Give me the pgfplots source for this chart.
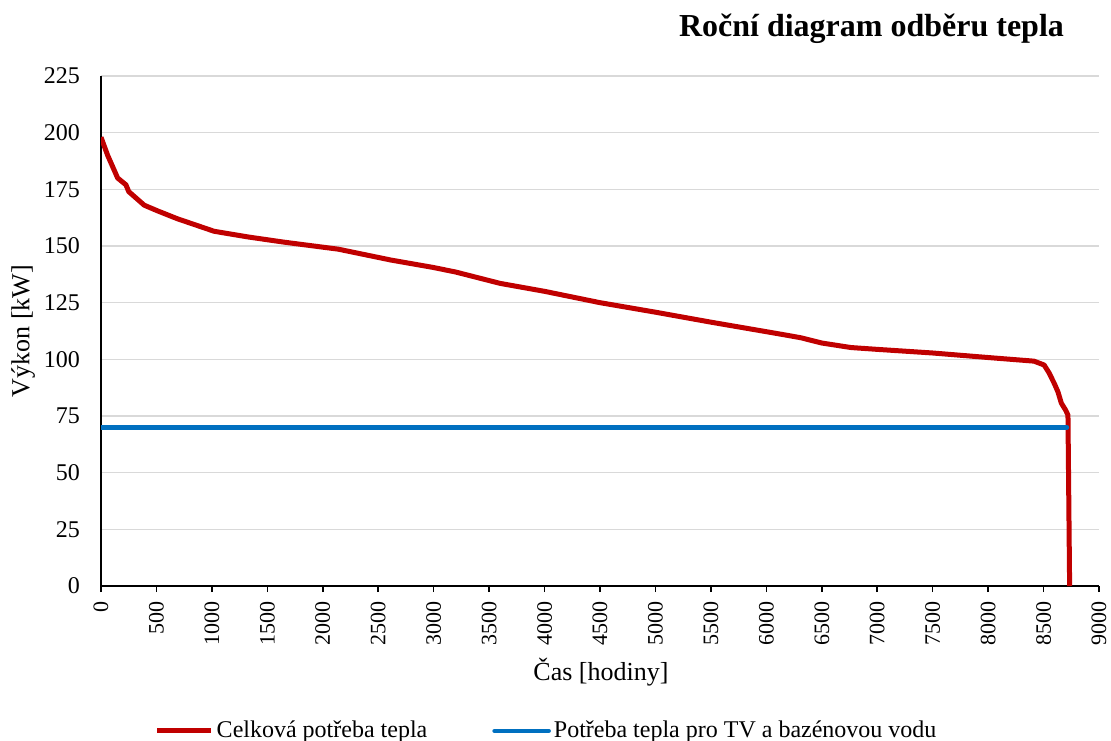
\documentclass[border=0pt]{standalone}
\usepackage{fontspec}
\setmainfont{Liberation Serif}
\usepackage{pgfplots}
\pgfplotsset{compat=1.18}

\definecolor{tred}{HTML}{C00000}
\definecolor{tblue}{HTML}{0070C0}
\definecolor{tgrid}{HTML}{D9D9D9}

\begin{document}
\begin{tikzpicture}
\begin{axis}[
  at={(0,0)}, anchor=south west,
  width=499pt, height=255pt, scale only axis,
  xmin=0, xmax=9000, ymin=0, ymax=225,
  xtick distance=500, ytick distance=25,
  axis x line=bottom, axis y line=left,
  axis line style={-, black, line width=0.8pt},
  ymajorgrids=true,
  major grid style={tgrid, line width=0.7pt},
  x tick style={black, line width=0.8pt},
  y tick style={draw=none},
  major tick length=3pt,
  tick align=outside,
  /pgf/number format/assume math mode=true,
  /pgf/number format/1000 sep={},
  scaled x ticks=false,
  xticklabel style={rotate=90, anchor=east, font=\fontsize{11}{13}\selectfont, xshift=-1pt},
  yticklabel style={font=\fontsize{12}{14}\selectfont, xshift=-4pt},
  xlabel={Čas [hodiny]},
  ylabel={Výkon [kW]},
  every axis x label/.style={at={(axis description cs:0.501,-0.169)}, anchor=center, font=\fontsize{13}{15}\selectfont},
  every axis y label/.style={at={(axis description cs:-0.078,0.5)}, rotate=90, anchor=center, font=\fontsize{13}{15}\selectfont},
  title={Roční diagram odběru tepla},
  every axis title/.style={at={(axis description cs:0.772,1.092)}, anchor=center, font=\fontsize{16}{19}\selectfont\bfseries},
  legend columns=2,
  legend style={at={(axis description cs:0.447,-0.284)}, anchor=center, draw=none, font=\fontsize{12}{14}\selectfont,
    nodes={inner xsep=1.5pt},
    /tikz/every even column/.append style={column sep=31pt}},
  legend image code/.code={\draw[#1] (0pt,0pt) -- (27pt,0pt);},
]
\addplot[tred, line width=2.5pt, line join=round] coordinates {
(0,198) (60,190) (150,180) (225,177) (250,174) (390,168) (510,165.5)
(690,162) (810,160) (1020,156.5) (1325,154) (1650,151.7) (2140,148.6)
(2615,143.8) (3000,140.5) (3200,138.5) (3400,136) (3600,133.5) (4000,130)
(4500,125) (5000,120.8) (5500,116.4) (6000,112.2) (6200,110.5) (6313,109.5)
(6500,107.2) (6764,105.2) (7000,104.4) (7500,102.8) (8000,100.8) (8414,99.2)
(8505,97.5) (8550,94) (8600,89) (8630,85.6) (8660,80.7) (8700,77.5) (8720,75.4)
(8735,0)
};
\addlegendentry{Celková potřeba tepla}
\addplot[tblue, line width=2.3pt, line cap=round] coordinates {(0,70) (8710,70)};
\addlegendentry{Potřeba tepla pro TV a bazénovou vodu}
\end{axis}
\pgfresetboundingbox
\useasboundingbox (-50.5pt,-77pt) rectangle (505pt,293pt);
\end{tikzpicture}
\end{document}
